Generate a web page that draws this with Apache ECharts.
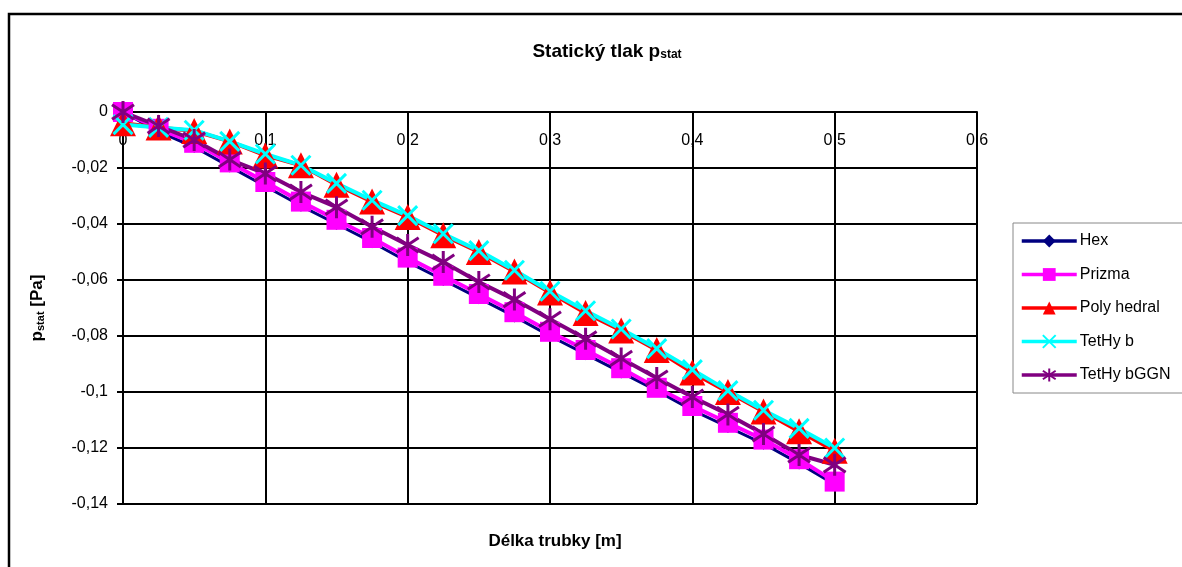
<!DOCTYPE html>
<html>
<head>
<meta charset="utf-8">
<script src="https://cdn.jsdelivr.net/npm/echarts@6/dist/echarts.min.js"></script>
<style>
html, body { margin: 0; padding: 0; background: #fff; }
#chart { width: 1182px; height: 567px; }
</style>
</head>
<body>
<div id="chart"></div>
<script>
// délka trubky [m]
var delka = [0, 0.025, 0.05, 0.075, 0.1, 0.125, 0.15, 0.175, 0.2, 0.225, 0.25,
             0.275, 0.3, 0.325, 0.35, 0.375, 0.4, 0.425, 0.45, 0.475, 0.5];

// p_stat [Pa] pro jednotlive site
var hex = [0, -0.007, -0.0125, -0.0195, -0.0265, -0.0335, -0.040, -0.0465, -0.0535, -0.060, -0.0665,
           -0.073, -0.080, -0.0865, -0.093, -0.0995, -0.1065, -0.1125, -0.1185, -0.1255, -0.133];
var prizma = [0, -0.006, -0.011, -0.018, -0.025, -0.032, -0.0385, -0.045, -0.052, -0.0585, -0.065,
              -0.0715, -0.0785, -0.085, -0.0915, -0.0985, -0.105, -0.111, -0.117, -0.124, -0.132];
var polyhedral = [-0.004, -0.0055, -0.0068, -0.0105, -0.0155, -0.019, -0.026, -0.032, -0.0375, -0.044, -0.050,
                  -0.057, -0.0645, -0.0718, -0.078, -0.085, -0.093, -0.100, -0.107, -0.114, -0.121];
var tetHyb = [-0.0045, -0.0055, -0.0065, -0.0105, -0.015, -0.019, -0.0255, -0.0315, -0.037, -0.0435, -0.0495,
              -0.0565, -0.064, -0.071, -0.0775, -0.0845, -0.092, -0.0995, -0.1065, -0.113, -0.120];
var tetHybGGN = [0, -0.005, -0.010, -0.017, -0.022, -0.0286, -0.034, -0.041, -0.0475, -0.0536, -0.0607,
                 -0.067, -0.074, -0.081, -0.088, -0.095, -0.1018, -0.108, -0.115, -0.1225, -0.126];

var names = ['Hex', 'Prizma', 'Poly hedral', 'TetHy b', 'TetHy bGGN'];

function pairs(ys) {
    var out = [];
    for (var i = 0; i < delka.length; i++) {
        out.push([delka[i], ys[i]]);
    }
    return out;
}

function carka(v) {
    return String(+v.toFixed(3)).replace('.', ',');
}

var font = '"Liberation Sans", Arial, sans-serif';
var krizek = 'path://M0,0L10,10M10,0L0,10';
var hvezda = 'path://M0,1L10,9M10,1L0,9M5,-1L5,11';

function serie(name, ys, color, symbol, size, lw, stroked) {
    var s = {
        name: name,
        type: 'line',
        data: pairs(ys),
        symbol: symbol,
        symbolSize: size,
        showAllSymbol: true,
        lineStyle: { color: color, width: lw },
        itemStyle: { color: color },
        emphasis: { disabled: true }
    };
    if (stroked) {
        s.itemStyle = { color: color, borderColor: color, borderWidth: 3 };
    }
    return s;
}

var chart = echarts.init(document.getElementById('chart'));
chart.setOption({
    animation: false,
    textStyle: { fontFamily: font },
    title: [{
        text: '{a|Statický tlak p}{b|stat}',
        left: 602,
        top: 30,
        textAlign: 'center',
        textStyle: {
            rich: {
                a: { fontFamily: font, fontSize: 19, fontWeight: 'bold', color: '#000', lineHeight: 26, verticalAlign: 'bottom' },
                b: { fontFamily: font, fontSize: 12, fontWeight: 'bold', color: '#000', lineHeight: 12, verticalAlign: 'bottom' }
            }
        }
    }, {
        text: 'Délka trubky [m]',
        left: 550,
        top: 528,
        textAlign: 'center',
        textStyle: { fontFamily: font, fontSize: 17, fontWeight: 'bold', color: '#000' }
    }],
    legend: {
        data: names,
        orient: 'vertical',
        left: 1013,
        top: 223,
        padding: [10, 60, 10, 7],
        itemWidth: 55,
        itemHeight: 16,
        itemGap: 17.5,
        borderColor: '#888',
        borderWidth: 1,
        lineStyle: { width: 3.5 },
        textStyle: { fontFamily: font, fontSize: 16, color: '#000', padding: [0, 0, 0, -2] }
    },
    grid: { left: 123, top: 112, right: 205, bottom: 63, containLabel: false },
    xAxis: {
        type: 'value',
        position: 'top',
        min: 0,
        max: 0.6,
        interval: 0.1,
        axisLine: { show: true, onZero: false, lineStyle: { color: '#000', width: 2 } },
        axisTick: { show: false },
        axisLabel: {
            inside: true,
            margin: 21,
            fontSize: 16,
            color: '#000',
            formatter: carka
        },
        splitLine: { show: true, lineStyle: { color: '#000', width: 2 } }
    },
    yAxis: {
        type: 'value',
        min: -0.14,
        max: 0,
        interval: 0.02,
        name: '{a|p}{b|stat}{a| [Pa]}',
        nameLocation: 'middle',
        nameGap: 77,
        nameRotate: 90,
        nameTextStyle: {
            rich: {
                a: { fontFamily: font, fontSize: 17, fontWeight: 'bold', color: '#000', lineHeight: 22, verticalAlign: 'bottom' },
                b: { fontFamily: font, fontSize: 11, fontWeight: 'bold', color: '#000', lineHeight: 11, verticalAlign: 'bottom' }
            }
        },
        axisLine: { show: true, onZero: false, lineStyle: { color: '#000', width: 2 } },
        axisTick: { show: true, length: 6, lineStyle: { color: '#000', width: 2 } },
        axisLabel: { margin: 15, fontSize: 16, color: '#000', formatter: carka },
        splitLine: { show: true, lineStyle: { color: '#000', width: 2 } }
    },
    graphic: [{
        type: 'rect',
        shape: { x: 9, y: 14, width: 1300, height: 700 },
        style: { fill: null, stroke: '#000', lineWidth: 2.5 },
        silent: true,
        z: 100
    }],
    series: [
        serie(names[0], hex, '#000080', 'diamond', 12, 3, false),
        serie(names[1], prizma, '#ff00ff', 'rect', 20, 4, false),
        serie(names[2], polyhedral, '#ff0000', 'triangle', 26, 4, false),
        serie(names[3], tetHyb, '#00ffff', krizek, 19, 4, true),
        serie(names[4], tetHybGGN, '#800080', hvezda, 22, 4, true)
    ]
});
</script>
</body>
</html>
